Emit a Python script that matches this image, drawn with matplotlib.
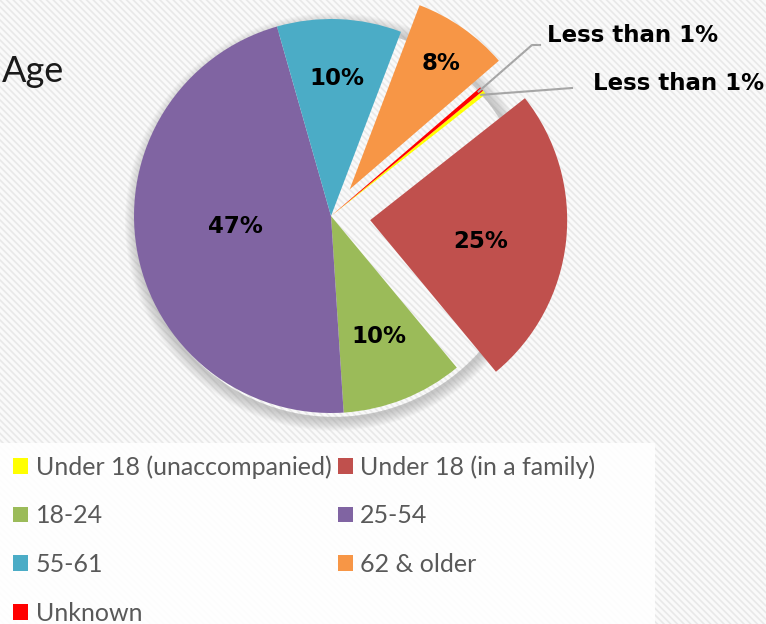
import matplotlib
matplotlib.use("Agg")
import matplotlib.pyplot as plt
import numpy as np
from matplotlib.patches import Rectangle, Wedge

# ---------------- data ----------------
categories = ["Under 18 (unaccompanied)", "Under 18 (in a family)", "18-24",
              "25-54", "55-61", "62 & older", "Unknown"]
shares = [0.35, 24.6, 10.0, 46.6, 10.2, 7.9, 0.35]
colors = ["#FFFF00", "#C0504D", "#9BBB59", "#8064A2", "#4BACC6", "#F79646", "#FF0000"]
title = "Age"

# ---------------- layout / style ----------------
W, H = 766, 624
CX, CY, R = 331, 216, 197           # pie centre & radius in pixels
explode = [0, 0.2, 0, 0, 0, 0.165, 0]
label_r = [None, 0.57, 0.66, 0.49, 0.70, 0.79, None]
label_dang = [0, -5, 0, -3.5, 0, -1, 0]

def px(x, y):
    return ((x - CX) / R, (CY - y) / R)

plt.rcParams['hatch.color'] = '#e9e9e9'
plt.rcParams['hatch.linewidth'] = 1.2

fig = plt.figure(figsize=(W / 100, H / 100), dpi=100)
fig.patch.set_facecolor('#fafafa')
bg = fig.add_axes([0, 0, 1, 1], zorder=-5)
bg.add_patch(Rectangle((0, 0), 1, 1, transform=bg.transAxes, facecolor='#fafafa',
                       edgecolor='#e8e8e8', hatch='\\\\\\\\\\', linewidth=0))
bg.axis('off')

ax = fig.add_axes([0, 0, 1, 1])
ax.patch.set_alpha(0)

# soft shadow ring around the pie
for k in range(10):
    ax.add_patch(Wedge((0.015, -0.03), 1.0 + 0.006 * (k + 1), 0, 360, width=0.006 * (k + 1) + 0.01,
                       facecolor='#8a8a8a', edgecolor='none', alpha=0.05, zorder=0))

wedges, _ = ax.pie(shares, colors=colors, startangle=39.5, counterclock=False,
                   explode=explode, radius=1, wedgeprops=dict(linewidth=0, zorder=2))

ax.set_xlim(px(0, 0)[0], px(W, 0)[0])
ax.set_ylim(px(0, H)[1], px(0, 0)[1])
ax.set_aspect('auto')
ax.axis('off')

lab_font = dict(family='DejaVu Sans', weight='bold', size=16.5, color='black')

for i, w in enumerate(wedges):
    mid = np.deg2rad((w.theta1 + w.theta2) / 2 + label_dang[i])
    cx, cy = w.center
    if label_r[i] is not None:
        txt = f"{round(shares[i])}%"
        ax.text(cx + label_r[i] * np.cos(mid), cy + label_r[i] * np.sin(mid), txt,
                ha='center', va='center', zorder=5, **lab_font)

# small slices: leader lines + labels
def tip(w, rr=0.98):
    a = np.deg2rad((w.theta1 + w.theta2) / 2)
    return w.center[0] + rr * np.cos(a), w.center[1] + rr * np.sin(a)

lc = '#a6a6a6'
# Unknown -> upper label
x0, y0 = tip(wedges[6])
e1 = px(532, 45); e2 = px(540, 45)
ax.plot([x0, e1[0], e2[0]], [y0, e1[1], e2[1]], color=lc, lw=1.5, zorder=4)
t = px(547, 42)
ax.text(t[0], t[1], "Less than 1%" if shares[6] < 1 else f"{round(shares[6])}%",
        ha='left', va='baseline', zorder=5, **lab_font)
# Under 18 unaccompanied -> lower label
x0, y0 = tip(wedges[0])
e = px(572, 88)
ax.plot([x0, e[0]], [y0, e[1]], color=lc, lw=1.5, zorder=4)
t = px(593, 90)
ax.text(t[0], t[1], "Less than 1%" if shares[0] < 1 else f"{round(shares[0])}%",
        ha='left', va='baseline', zorder=5, **lab_font)

# title at the left edge
fig.text(2 / W, 1 - 82 / H, title, ha='left', va='baseline', fontsize=26,
         family='Lato', weight='normal', color='#1a1a1a')

# legend panel
fig.patches.append(Rectangle((0, 0), 655 / W, (H - 443) / H, transform=fig.transFigure,
                             facecolor='white', edgecolor='none', alpha=0.9, zorder=1))
order = [0, 2, 4, 6, 1, 3, 5]
leg = fig.legend([wedges[i] for i in order], [categories[i] for i in order],
                 ncol=2, loc='upper left', bbox_to_anchor=(13 / W, 1 - 455 / H),
                 frameon=False, borderpad=0, borderaxespad=0,
                 handlelength=0.6, handleheight=0.6, handletextpad=0.3,
                 columnspacing=0.25, labelspacing=1.03,
                 prop=dict(family='Lato', size=18))
for txt in leg.get_texts():
    txt.set_color('#595959')
leg.set_zorder(3)

fig.savefig('out.png', dpi=100, facecolor=fig.get_facecolor())
